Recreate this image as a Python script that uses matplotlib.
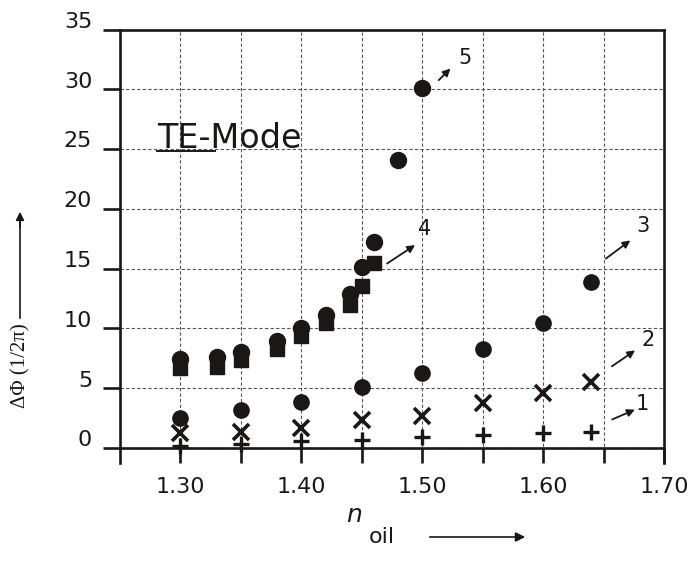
import matplotlib
matplotlib.use("Agg")
import matplotlib.pyplot as plt
import matplotlib.transforms as mtransforms

# curve 1 (+)
n1 = [1.30, 1.35, 1.40, 1.45, 1.50, 1.55, 1.60, 1.64]
phi1 = [0.2, 0.35, 0.6, 0.7, 0.9, 1.1, 1.25, 1.35]
# curve 2 (x)
n2 = [1.30, 1.35, 1.40, 1.45, 1.50, 1.55, 1.60, 1.64]
phi2 = [1.25, 1.35, 1.65, 2.35, 2.7, 3.75, 4.6, 5.5]
# curve 3 (lower circles)
n3 = [1.30, 1.35, 1.40, 1.45, 1.50, 1.55, 1.60, 1.64]
phi3 = [2.5, 3.2, 3.85, 5.1, 6.3, 8.3, 10.45, 13.9]
# curve 4 (squares)
n4 = [1.30, 1.33, 1.35, 1.38, 1.40, 1.42, 1.44, 1.45, 1.46]
phi4 = [6.7, 6.8, 7.35, 8.3, 9.35, 10.45, 12.0, 13.55, 15.45]
# curve 5 (upper circles)
n5 = [1.30, 1.33, 1.35, 1.38, 1.40, 1.42, 1.44, 1.45, 1.46, 1.48, 1.50]
phi5 = [7.45, 7.6, 8.0, 8.95, 10.0, 11.1, 12.9, 15.15, 17.2, 24.1, 30.1]

x_ticks = [1.30, 1.35, 1.40, 1.45, 1.50, 1.55, 1.60, 1.65, 1.70]
x_tick_labels = ["1.30", "", "1.40", "", "1.50", "", "1.60", "", "1.70"]
y_ticks = [0, 5, 10, 15, 20, 25, 30, 35]

# curve labels: (text, arrow start, arrow tip, text position) in data units
curve_labels = [
    ("5", (1.512, 30.6), (1.525, 31.9), (1.535, 32.6)),
    ("4", (1.469, 15.3), (1.496, 17.1), (1.502, 18.3)),
    ("3", (1.650, 15.7), (1.674, 17.5), (1.683, 18.6)),
    ("2", (1.655, 6.7), (1.678, 8.3), (1.687, 9.0)),
    ("1", (1.655, 2.3), (1.678, 3.3), (1.682, 3.7)),
]

W, H = 696, 561
INK = "#1b1716"


def fx(px):
    return px / W


def fy(py):
    return 1 - py / H


fig = plt.figure(figsize=(W / 100, H / 100), dpi=100)
ax = fig.add_axes([fx(120), fy(463), (664 - 120) / W, (463 - 29.5) / H])

ax.set_xlim(1.25, 1.70)
ax.set_ylim(-1.25, 35)

ax.set_xticks(x_ticks)
ax.set_xticklabels(x_tick_labels)
ax.set_yticks(y_ticks)

ax.grid(True, color="#555555", linestyle=(0, (3, 2)), linewidth=0.8)
ax.set_axisbelow(True)

for side in ["left", "right", "top", "bottom"]:
    ax.spines[side].set_linewidth(1.9)
    ax.spines[side].set_color(INK)
ax.spines["bottom"].set_position(("data", 0))

ax.tick_params(axis="x", direction="out", length=11, width=1.9, pad=10,
               labelsize=16, colors=INK)
ax.tick_params(axis="y", direction="out", length=12, width=1.9, pad=8,
               labelsize=16, colors=INK)
# y labels sit slightly above their ticks in the original
off = mtransforms.ScaledTranslation(0, 7 / 72, fig.dpi_scale_trans)
for lab in ax.get_yticklabels():
    lab.set_transform(lab.get_transform() + off)

ax.plot(n1, phi1, linestyle="none", marker="+", ms=12, mew=2.4, color=INK, clip_on=False)
ax.plot(n2, phi2, linestyle="none", marker="x", ms=11, mew=2.6, color=INK, clip_on=False)
ax.plot(n3, phi3, linestyle="none", marker="o", ms=11, color=INK)
ax.plot(n4, phi4, linestyle="none", marker="s", ms=10.5, color=INK)
ax.plot(n5, phi5, linestyle="none", marker="o", ms=11.5, color=INK)

for txt, start, tip, pos in curve_labels:
    ax.annotate("", xy=tip, xytext=start,
                arrowprops=dict(arrowstyle="-|>", lw=1.3, color=INK, mutation_scale=11))
    ax.text(pos[0], pos[1], txt, fontsize=15, color=INK, ha="center", va="center")

# mode label
fig.text(fx(157), fy(138), "TE-Mode", fontsize=24, color=INK, ha="left", va="center")
fig.add_artist(plt.Line2D([fx(157), fx(215)], [fy(151), fy(151)], color=INK, lw=1.4))

# y axis label with arrow
fig.text(fx(21), fy(366), "ΔΦ (1/2π)", rotation=90, ha="center", va="center",
         fontsize=15, family="Liberation Serif", color=INK)
fig.add_artist(plt.Line2D([fx(20), fx(20)], [fy(318), fy(222)], color=INK, lw=1.2))
ax.annotate("", xy=(fx(20), fy(209)), xytext=(fx(20), fy(230)), xycoords="figure fraction",
            textcoords="figure fraction",
            arrowprops=dict(arrowstyle="-|>", lw=1.2, color=INK, mutation_scale=12))

# x axis label with arrow
fig.text(fx(354), fy(515), "n", fontsize=18, style="italic", ha="center", va="center", color=INK)
fig.text(fx(382), fy(537), "oil", fontsize=16, ha="center", va="center", color=INK)
ax.annotate("", xy=(fx(528), fy(537)), xytext=(fx(427), fy(537)), xycoords="figure fraction",
            textcoords="figure fraction",
            arrowprops=dict(arrowstyle="-|>", lw=1.2, color=INK, mutation_scale=14))

fig.savefig("out.png", dpi=100)
